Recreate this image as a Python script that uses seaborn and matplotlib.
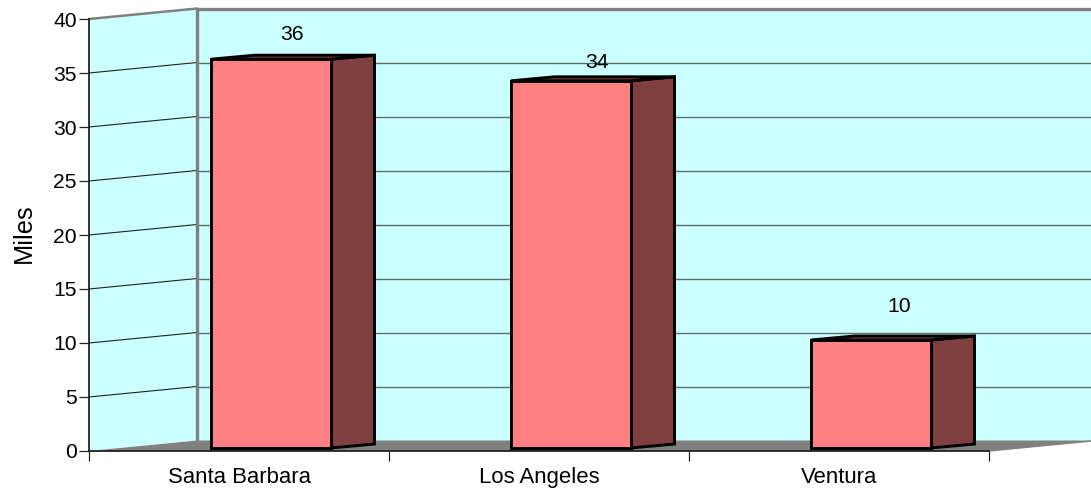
import matplotlib
matplotlib.use("Agg")
import matplotlib.pyplot as plt
from matplotlib.patches import Polygon
from matplotlib.transforms import Affine2D
import seaborn as sns

# Distance to each city, in miles
cities = ["Santa Barbara", "Los Angeles", "Ventura"]
miles = [36, 34, 10]
y_ticks = [0, 5, 10, 15, 20, 25, 30, 35, 40]
y_title = "Miles"

WALL = "#CCFFFF"
FLOOR = "#808080"
FACE = "#FF8080"
SHADE = "#804040"
EDGE_LW = 2.1

# Pixel shifts that fake the 3-D box: (right, up)
BOX_DEPTH = (108, 10.5)
BAR_SHIFT = (32, 3)
BAR_DEPTH = (43.5, 4)
BAR_WIDTH = 0.4
LABEL_NUDGE = [(21, 25), (26, 18), (28, 33)]

sns.set_theme(style="white")
plt.rcParams["font.family"] = ["Liberation Sans", "DejaVu Sans"]

W, H = 1091, 491
fig = plt.figure(figsize=(W / 100, H / 100), dpi=100, facecolor="white")
ax = fig.add_axes([89 / W, (H - 451) / H, 900 / W, 432 / H])
ax.patch.set_visible(False)

sns.barplot(x=cities, y=miles, width=BAR_WIDTH, color=FACE, saturation=1,
            edgecolor="black", linewidth=EDGE_LW, ax=ax, zorder=5)
bars = list(ax.patches)
ax.set_xlim(-0.5, 2.5)
ax.set_ylim(0, 40)


def shifted(dx, dy):
    return ax.transData + Affine2D().translate(dx, dy)


back = shifted(*BOX_DEPTH)
x0, x1 = ax.get_xlim()
top = y_ticks[-1]
dx, dy = BOX_DEPTH
to_px = ax.transData.transform
inv = ax.transData.inverted().transform
back_x0 = inv(to_px((x0, 0)) + (dx, dy))
back_xt = inv(to_px((x0, top)) + (dx, dy))
back_x1 = inv(to_px((x1, 0)) + (dx, dy))

# Back wall, side wall and floor of the box
ax.add_patch(Polygon([(x0, 0), (x1 + 0.02, 0), (x1 + 0.02, top), (x0, top)], closed=True,
                     facecolor=WALL, edgecolor="none", transform=back, clip_on=False, zorder=1))
ax.add_patch(Polygon([(x0, 0), back_x0, back_xt, (x0, top)], closed=True,
                     facecolor=WALL, edgecolor="none", clip_on=False, zorder=1))
ax.add_patch(Polygon([(x0, 0), back_x0, back_x1, (x1, 0)], closed=True,
                     facecolor=FLOOR, edgecolor="none", clip_on=False, zorder=2))

# Gridlines run along the side wall and across the back wall
for v in y_ticks[1:-1]:
    p = inv(to_px((x0, v)) + (dx, dy))
    ax.plot([x0, p[0]], [v, p[1]], color="#222222", lw=0.8, clip_on=False, zorder=2)
    ax.plot([x0, x1 + 0.02], [v, v], color="#5A6E6E", lw=1.0, transform=back,
            clip_on=False, zorder=2)

# Grey outline of the back of the box
ax.plot([x0, x0], [0, top], color=FLOOR, lw=2.4, transform=back, clip_on=False, zorder=3)
ax.plot([x0, x1 + 0.02], [top, top], color=FLOOR, lw=2.4, transform=back, clip_on=False, zorder=3)
ax.plot([x0, back_xt[0]], [top, back_xt[1]], color=FLOOR, lw=1.8, clip_on=False, zorder=3)

# Slide the front faces forward from the axis plane, then add their side and top faces
bar_tf = shifted(*BAR_SHIFT)
depth_px = (BAR_SHIFT[0] + BAR_DEPTH[0], BAR_SHIFT[1] + BAR_DEPTH[1])


def front(x, y):
    return inv(to_px((x, y)) + BAR_SHIFT)


def rear(x, y):
    return inv(to_px((x, y)) + depth_px)


for bar, value, nudge in zip(bars, miles, LABEL_NUDGE):
    bar.set_transform(bar_tf)
    bar.set_clip_on(False)
    left = bar.get_x()
    right = left + bar.get_width()
    ax.add_patch(Polygon([front(right, 0), rear(right, 0), rear(right, value), front(right, value)],
                         closed=True, facecolor=SHADE, edgecolor="black", linewidth=EDGE_LW,
                         joinstyle="miter", clip_on=False, zorder=4))
    ax.add_patch(Polygon([front(left, value), rear(left, value), rear(right, value), front(right, value)],
                         closed=True, facecolor=SHADE, edgecolor="black", linewidth=EDGE_LW,
                         joinstyle="miter", clip_on=False, zorder=4))
    ax.annotate(str(value), xy=(left + BAR_WIDTH / 2, value), xycoords="data",
                xytext=(nudge[0] + BAR_SHIFT[0], nudge[1] + BAR_SHIFT[1]),
                textcoords="offset pixels", ha="center", va="center",
                fontsize=15.2, color="black", zorder=6, annotation_clip=False)

# Front frame and ticks
for side in ("top", "right"):
    ax.spines[side].set_visible(False)
for side in ("left", "bottom"):
    ax.spines[side].set_color("#222222")
    ax.spines[side].set_linewidth(1.3)
    ax.spines[side].set_zorder(3)
ax.plot([x1, back_x1[0]], [0, back_x1[1]], color=FLOOR, lw=1, clip_on=False, zorder=2)

ax.set_yticks(y_ticks)
ax.set_xticks([i - 0.5 for i in range(len(cities) + 1)], minor=True)
ax.tick_params(axis="x", which="minor", length=7.2, width=0.9, color="#222222", bottom=True)
ax.tick_params(axis="x", which="major", length=0, pad=11.5, labelsize=15.9, labelcolor="black")
ax.tick_params(axis="y", length=7.2, width=0.9, color="#222222", left=True, pad=1.5,
               labelsize=15.2, labelcolor="black")
ax.set_xlabel("")
ax.set_ylabel(y_title, fontsize=18.3, color="black", labelpad=12.5)
ax.yaxis.label.set_y(0.505)

fig.savefig("out.png", dpi=100, facecolor="white")
